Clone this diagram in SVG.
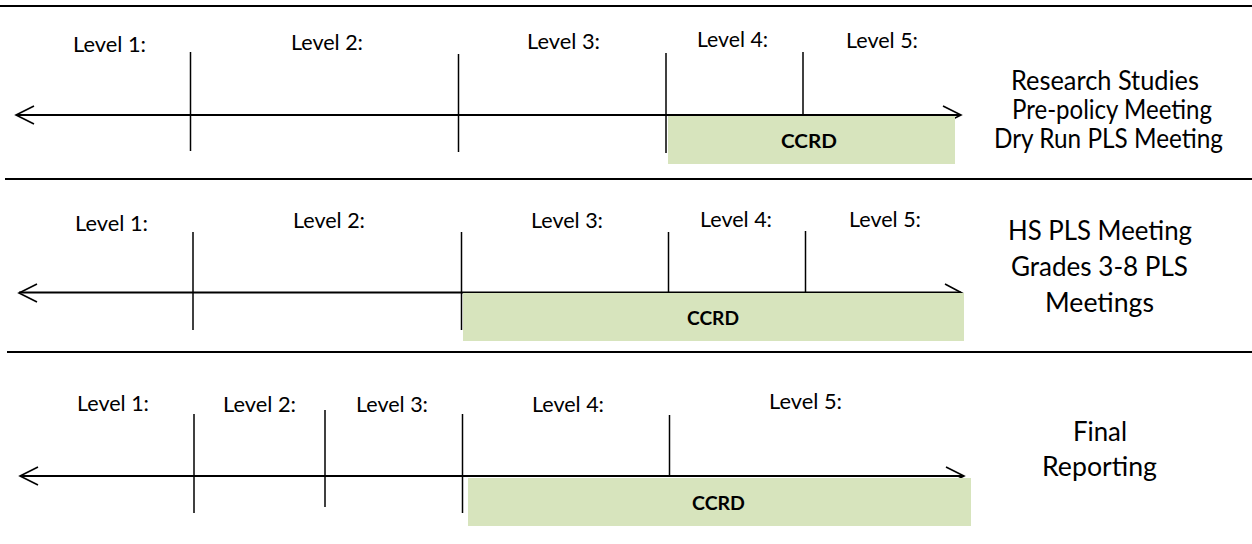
<svg xmlns="http://www.w3.org/2000/svg" width="1252" height="544" viewBox="0 0 1252 544">
<style>
.sep{stroke:#000;stroke-width:2.2;fill:none}
.axis{stroke:#000;stroke-width:1.8;fill:none}
.tick{stroke:#000;stroke-width:1.5;fill:none}
.head{stroke:#000;stroke-width:1.6;fill:none}
.bar{fill:#D7E4BD}
.lvl{font-family:Lato,"Open Sans","Liberation Sans",sans-serif;font-size:21.5px;fill:#000}
.side{font-family:Lato,"Open Sans","Liberation Sans",sans-serif;font-size:26px;fill:#000;text-anchor:middle}
.ccrd{font-family:Lato,"Open Sans","Liberation Sans",sans-serif;font-size:18px;font-weight:bold;fill:#000;text-anchor:middle}
</style>
<rect width="1252" height="544" fill="#fff"/>
<g id="separators">
<line class="sep" x1="0" y1="6" x2="1252" y2="6"/>
<line class="sep" x1="5" y1="179" x2="1252" y2="179"/>
<line class="sep" x1="7" y1="352" x2="1252" y2="352"/>
</g>
<g id="row1">
<g id="row1-connectors">
<line class="axis" x1="17" y1="115" x2="960" y2="115"/>
<polyline class="head" points="34,106 16,115 34,124"/>
<polyline class="head" points="943,106 961,115 943,124"/>
<line class="tick" x1="190.5" y1="52" x2="190.5" y2="151"/>
<line class="tick" x1="458.5" y1="54" x2="458.5" y2="152"/>
<line class="tick" x1="666" y1="53" x2="666" y2="153"/>
<line class="tick" x1="803" y1="52" x2="803" y2="115"/>
</g>
<rect class="bar" x="668" y="116" width="287" height="48"/>
<text class="ccrd" x="809" y="148" textLength="56" lengthAdjust="spacingAndGlyphs">CCRD</text>
<text class="lvl" x="73" y="52" textLength="73" lengthAdjust="spacingAndGlyphs">Level 1:</text>
<text class="lvl" x="291" y="50" textLength="72" lengthAdjust="spacingAndGlyphs">Level 2:</text>
<text class="lvl" x="527" y="49" textLength="73" lengthAdjust="spacingAndGlyphs">Level 3:</text>
<text class="lvl" x="697" y="47" textLength="71" lengthAdjust="spacingAndGlyphs">Level 4:</text>
<text class="lvl" x="846" y="48" textLength="72" lengthAdjust="spacingAndGlyphs">Level 5:</text>
<text class="side" x="1105" y="90" textLength="188" lengthAdjust="spacingAndGlyphs">Research Studies</text>
<text class="side" x="1112" y="119" textLength="200" lengthAdjust="spacingAndGlyphs">Pre-policy Meeting</text>
<text class="side" x="1108.5" y="148" textLength="229" lengthAdjust="spacingAndGlyphs">Dry Run PLS Meeting</text>
</g>
<g id="row2">
<g id="row2-connectors">
<line class="axis" x1="19" y1="292.5" x2="961" y2="292.5"/>
<polyline class="head" points="37,284 19,293 37,302"/>
<polyline class="head" points="945,284 962,293 945,302"/>
<line class="tick" x1="193" y1="232" x2="193" y2="330"/>
<line class="tick" x1="461.5" y1="232" x2="461.5" y2="330"/>
<line class="tick" x1="668.5" y1="232" x2="668.5" y2="293"/>
<line class="tick" x1="805.5" y1="231" x2="805.5" y2="293"/>
</g>
<rect class="bar" x="463" y="293" width="501" height="48"/>
<text class="ccrd" x="713" y="325" textLength="52" lengthAdjust="spacingAndGlyphs">CCRD</text>
<text class="lvl" x="75" y="231" textLength="73" lengthAdjust="spacingAndGlyphs">Level 1:</text>
<text class="lvl" x="293" y="228" textLength="72" lengthAdjust="spacingAndGlyphs">Level 2:</text>
<text class="lvl" x="531" y="228" textLength="72" lengthAdjust="spacingAndGlyphs">Level 3:</text>
<text class="lvl" x="700" y="227" textLength="72" lengthAdjust="spacingAndGlyphs">Level 4:</text>
<text class="lvl" x="849" y="227" textLength="72" lengthAdjust="spacingAndGlyphs">Level 5:</text>
<text class="side" x="1100" y="240" textLength="184" lengthAdjust="spacingAndGlyphs">HS PLS Meeting</text>
<text class="side" x="1099.5" y="276" textLength="177" lengthAdjust="spacingAndGlyphs">Grades 3-8 PLS</text>
<text class="side" x="1099.5" y="312" textLength="109" lengthAdjust="spacingAndGlyphs">Meetings</text>
</g>
<g id="row3">
<g id="row3-connectors">
<line class="axis" x1="20" y1="476" x2="963" y2="476"/>
<polyline class="head" points="38,467 20,476 38,485"/>
<polyline class="head" points="946,467 964,476 946,485"/>
<line class="tick" x1="194" y1="414" x2="194" y2="513"/>
<line class="tick" x1="325" y1="410" x2="325" y2="507"/>
<line class="tick" x1="462.5" y1="414" x2="462.5" y2="513"/>
<line class="tick" x1="669.5" y1="415" x2="669.5" y2="477"/>
</g>
<rect class="bar" x="468" y="478" width="503" height="48"/>
<text class="ccrd" x="718.5" y="510" textLength="53" lengthAdjust="spacingAndGlyphs">CCRD</text>
<text class="lvl" x="77" y="411" textLength="72" lengthAdjust="spacingAndGlyphs">Level 1:</text>
<text class="lvl" x="223" y="412" textLength="73" lengthAdjust="spacingAndGlyphs">Level 2:</text>
<text class="lvl" x="356" y="412" textLength="72" lengthAdjust="spacingAndGlyphs">Level 3:</text>
<text class="lvl" x="532" y="412" textLength="72" lengthAdjust="spacingAndGlyphs">Level 4:</text>
<text class="lvl" x="769" y="409" textLength="73" lengthAdjust="spacingAndGlyphs">Level 5:</text>
<text class="side" x="1100" y="441" textLength="54" lengthAdjust="spacingAndGlyphs">Final</text>
<text class="side" x="1099.5" y="476" textLength="115" lengthAdjust="spacingAndGlyphs">Reporting</text>
</g>
</svg>
